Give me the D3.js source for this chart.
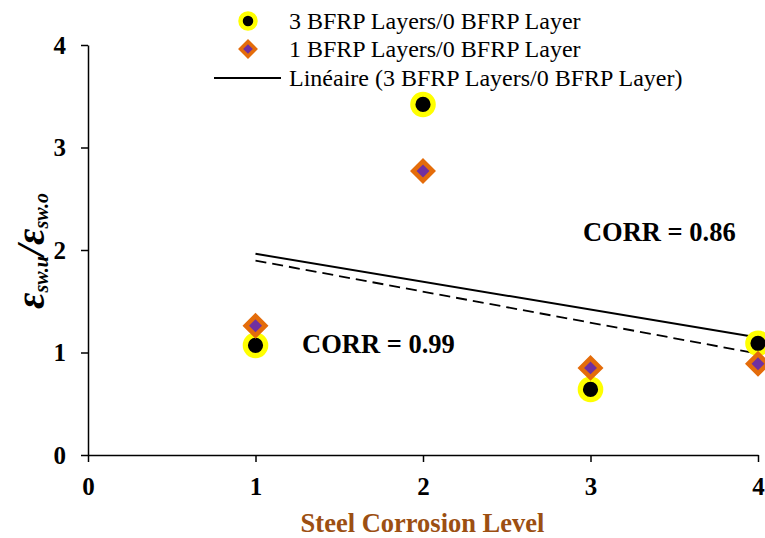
<!DOCTYPE html>
<html>
<head>
<meta charset="utf-8">
<script src="https://cdn.jsdelivr.net/npm/d3@7/dist/d3.min.js"></script>
<style>
  body { margin: 0; background: #fff; }
  text { font-family: "Liberation Serif", "Times New Roman", serif; }
</style>
</head>
<body>
<div id="container"></div>
<script>
const levels = [1, 2, 3, 4]
const threeLayers = [1.07, 3.42, 0.64, 1.09]
const oneLayer = [1.26, 2.77, 0.85, 0.89]
const xTicks = [0, 1, 2, 3, 4]
const yTicks = [0, 1, 2, 3, 4]
const seriesNames = ["3 BFRP Layers/0 BFRP Layer", "1 BFRP Layers/0 BFRP Layer", "Linéaire (3 BFRP Layers/0 BFRP Layer)"]
const corrLabels = [
  { text: "CORR = 0.86", x: 2.955, y: 2.09 },
  { text: "CORR = 0.99", x: 1.278, y: 0.995 }
]

const width = 765
const height = 538

const svg = d3.select("#container").append("svg")
  .attr("width", width)
  .attr("height", height)

const x = d3.scaleLinear().domain([0, 4]).range([88, 758])
const y = d3.scaleLinear().domain([0, 4]).range([455, 45])

// least squares fit for the trend lines
function fit(xs, ys) {
  const mx = d3.mean(xs), my = d3.mean(ys)
  const b = d3.sum(xs, (v, i) => (v - mx) * (ys[i] - my)) / d3.sum(xs, v => (v - mx) ** 2)
  return v => my + b * (v - mx)
}

svg.append("g")
  .attr("transform", `translate(0,${y(0)})`)
  .call(d3.axisBottom(x).tickValues(xTicks).tickFormat(d3.format("d")).tickSize(7).tickSizeOuter(0).tickPadding(15))
svg.append("g")
  .attr("transform", `translate(${x(0)},0)`)
  .call(d3.axisLeft(y).tickValues(yTicks).tickFormat(d3.format("d")).tickSize(7).tickSizeOuter(0).tickPadding(15))

svg.selectAll(".domain, .tick line").attr("stroke", "#000").attr("stroke-width", 1.5)
svg.selectAll(".tick text")
  .attr("font-family", "Liberation Serif")
  .attr("font-weight", "bold")
  .attr("font-size", 25)
  .attr("fill", "#000")

// trend lines
const fit3 = fit(levels, threeLayers)
const fit1 = fit(levels, oneLayer)
const line = d3.line().x(d => x(d[0])).y(d => y(d[1]))
const ends = d3.extent(levels)

svg.append("path")
  .attr("d", line(ends.map(v => [v, fit1(v)])))
  .attr("fill", "none")
  .attr("stroke", "#000")
  .attr("stroke-width", 1.8)
  .attr("stroke-dasharray", "11,6")

svg.append("path")
  .attr("d", line(ends.map(v => [v, fit3(v)])))
  .attr("fill", "none")
  .attr("stroke", "#000")
  .attr("stroke-width", 2)

const diamond = d3.symbol().type(d3.symbolSquare).size(190)

svg.selectAll(".dot3")
  .data(levels)
  .enter()
  .append("circle")
  .attr("class", "dot3")
  .attr("cx", d => x(d))
  .attr("cy", (d, i) => y(threeLayers[i]))
  .attr("r", 10.2)
  .attr("fill", "#000")
  .attr("stroke", "#ffff00")
  .attr("stroke-width", 5.2)

svg.selectAll(".dot1")
  .data(levels)
  .enter()
  .append("path")
  .attr("class", "dot1")
  .attr("d", diamond)
  .attr("transform", (d, i) => `translate(${x(d)},${y(oneLayer[i])}) rotate(45)`)
  .attr("fill", "#7030a0")
  .attr("stroke", "#e46c0a")
  .attr("stroke-width", 4.6)

svg.selectAll(".corr")
  .data(corrLabels)
  .enter()
  .append("text")
  .attr("class", "corr")
  .attr("x", d => x(d.x))
  .attr("y", d => y(d.y))
  .attr("font-size", 26.5)
  .attr("font-weight", "bold")
  .text(d => d.text)

// axis titles
svg.append("text")
  .attr("x", 422.5)
  .attr("y", 532)
  .attr("text-anchor", "middle")
  .attr("font-size", 26.5)
  .attr("font-weight", "bold")
  .attr("fill", "#9c4f12")
  .text("Steel Corrosion Level")

const yTitle = svg.append("text")
  .attr("transform", "translate(44,251) rotate(-90)")
  .attr("text-anchor", "middle")
  .attr("font-weight", "bold")
  .attr("font-style", "italic")
yTitle.append("tspan").attr("font-size", 40).text("ε")
yTitle.append("tspan").attr("font-size", 20).attr("dy", 4).text("sw.u")
yTitle.append("tspan").attr("font-size", 40).attr("dy", -4).text("/")
yTitle.append("tspan").attr("font-size", 40).text("ε")
yTitle.append("tspan").attr("font-size", 20).attr("dy", 4).text("sw.o")

// legend
const legend = svg.append("g")
const rows = [21, 49, 78]

legend.append("circle")
  .attr("cx", 248).attr("cy", rows[0])
  .attr("r", 7.5)
  .attr("fill", "#000")
  .attr("stroke", "#ffff00")
  .attr("stroke-width", 4.5)

legend.append("path")
  .attr("d", d3.symbol().type(d3.symbolSquare).size(110)())
  .attr("transform", `translate(248,${rows[1]}) rotate(45)`)
  .attr("fill", "#7030a0")
  .attr("stroke", "#e46c0a")
  .attr("stroke-width", 3.6)

legend.append("line")
  .attr("x1", 214).attr("x2", 281)
  .attr("y1", rows[2]).attr("y2", rows[2])
  .attr("stroke", "#000")
  .attr("stroke-width", 2)

legend.selectAll(".ltext")
  .data(seriesNames)
  .enter()
  .append("text")
  .attr("class", "ltext")
  .attr("x", 289)
  .attr("y", (d, i) => rows[i] + 8)
  .attr("font-size", 24)
  .text(d => d)
</script>
</body>
</html>
